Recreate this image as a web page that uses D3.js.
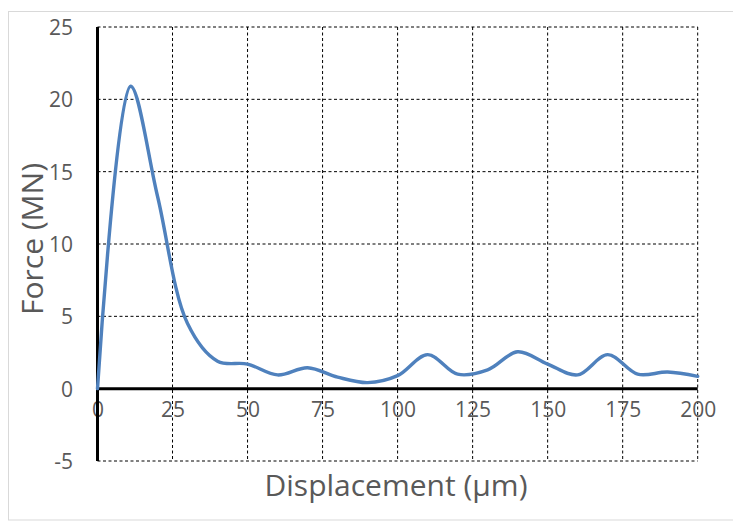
<!DOCTYPE html>
<html>
<head>
<meta charset="utf-8">
<script src="https://cdn.jsdelivr.net/npm/d3@7"></script>
<style>
  html, body { margin: 0; padding: 0; background: #fff; }
  svg { display: block; }
  text { font-family: "Open Sans", Lato, sans-serif; fill: #595959; }
</style>
</head>
<body>
<svg id="chart" width="733" height="521"></svg>
<script>
// Force vs. displacement readings
const displacement = [0, 11, 20, 30, 40, 50, 60, 70, 80, 90, 100, 110, 120, 130, 140, 150, 160, 170, 180, 190, 200];
const force = [0, 20.9, 13.3, 4.5, 1.9, 1.7, 0.95, 1.45, 0.8, 0.42, 0.9, 2.35, 1.0, 1.3, 2.55, 1.7, 0.95, 2.35, 1.0, 1.15, 0.85];
const xTicks = [0, 25, 50, 75, 100, 125, 150, 175, 200];
const yTicks = [-5, 0, 5, 10, 15, 20, 25];
const xTitle = "Displacement (µm)";
const yTitle = "Force (MN)";

const svg = d3.select("#chart");
const W = 733, H = 521;
const plot = { left: 97.5, right: 697.7, top: 27, bottom: 461 };

const x = d3.scaleLinear().domain([0, 200]).range([plot.left, plot.right]);
const y = d3.scaleLinear().domain([-5, 25]).range([plot.bottom, plot.top]);

// outer chart frame
svg.append("rect")
  .attr("x", 8.5).attr("y", 11.5)
  .attr("width", W - 8).attr("height", H - 12.5)
  .attr("fill", "none").attr("stroke", "#d9d9d9").attr("stroke-width", 1);

// dashed gridlines
const grid = svg.append("g").attr("stroke", "#000").attr("stroke-width", 1)
  .attr("stroke-dasharray", "3,2.5").attr("fill", "none");
xTicks.filter(t => t !== 0).forEach(t => {
  grid.append("line").attr("x1", x(t)).attr("x2", x(t))
    .attr("y1", plot.top).attr("y2", plot.bottom);
});
yTicks.filter(t => t !== 0).forEach(t => {
  grid.append("line").attr("x1", plot.left).attr("x2", plot.right)
    .attr("y1", y(t)).attr("y2", y(t));
});

// y axis labels
const yAxis = d3.axisLeft(y).tickValues(yTicks).tickSize(0).tickPadding(0).tickFormat(d => d < 0 ? "-" + Math.abs(d) : String(d));
const gy = svg.append("g").attr("transform", `translate(73,0)`).call(yAxis);
gy.select(".domain").remove();
gy.selectAll("text").style("font-size", "21px").attr("fill", "#595959").attr("dy", "0.36em");

// x axis labels (sit below the zero line)
const xAxis = d3.axisBottom(x).tickValues(xTicks).tickSize(0).tickPadding(0).tickFormat(d3.format("d"));
const gx = svg.append("g").attr("transform", `translate(0,${y(0) + 22})`).call(xAxis);
gx.select(".domain").remove();
gx.selectAll("text").style("font-size", "21px").attr("fill", "#595959").attr("dy", "0.3em");

// axis lines
svg.append("line").attr("x1", plot.left).attr("x2", plot.left)
  .attr("y1", plot.top).attr("y2", plot.bottom)
  .attr("stroke", "#000").attr("stroke-width", 3);
svg.append("line").attr("x1", plot.left).attr("x2", plot.right)
  .attr("y1", y(0)).attr("y2", y(0))
  .attr("stroke", "#000").attr("stroke-width", 3);

// smoothed force curve
const pts = displacement.map((d, i) => [d, force[i]]);
const line = d3.line().x(d => x(d[0])).y(d => y(d[1])).curve(d3.curveCatmullRom.alpha(0.5));
svg.append("path").datum(pts)
  .attr("d", line)
  .attr("fill", "none")
  .attr("stroke", "#4f81bd")
  .attr("stroke-width", 3.4)
  .attr("stroke-linejoin", "round")
  .attr("stroke-linecap", "round");

// titles
svg.append("text")
  .attr("x", 396).attr("y", 496)
  .attr("text-anchor", "middle")
  .style("font-size", "30px")
  .text(xTitle);
svg.append("text")
  .attr("transform", `translate(43,239) rotate(-90)`)
  .attr("text-anchor", "middle")
  .style("font-size", "30px")
  .text(yTitle);
</script>
</body>
</html>
